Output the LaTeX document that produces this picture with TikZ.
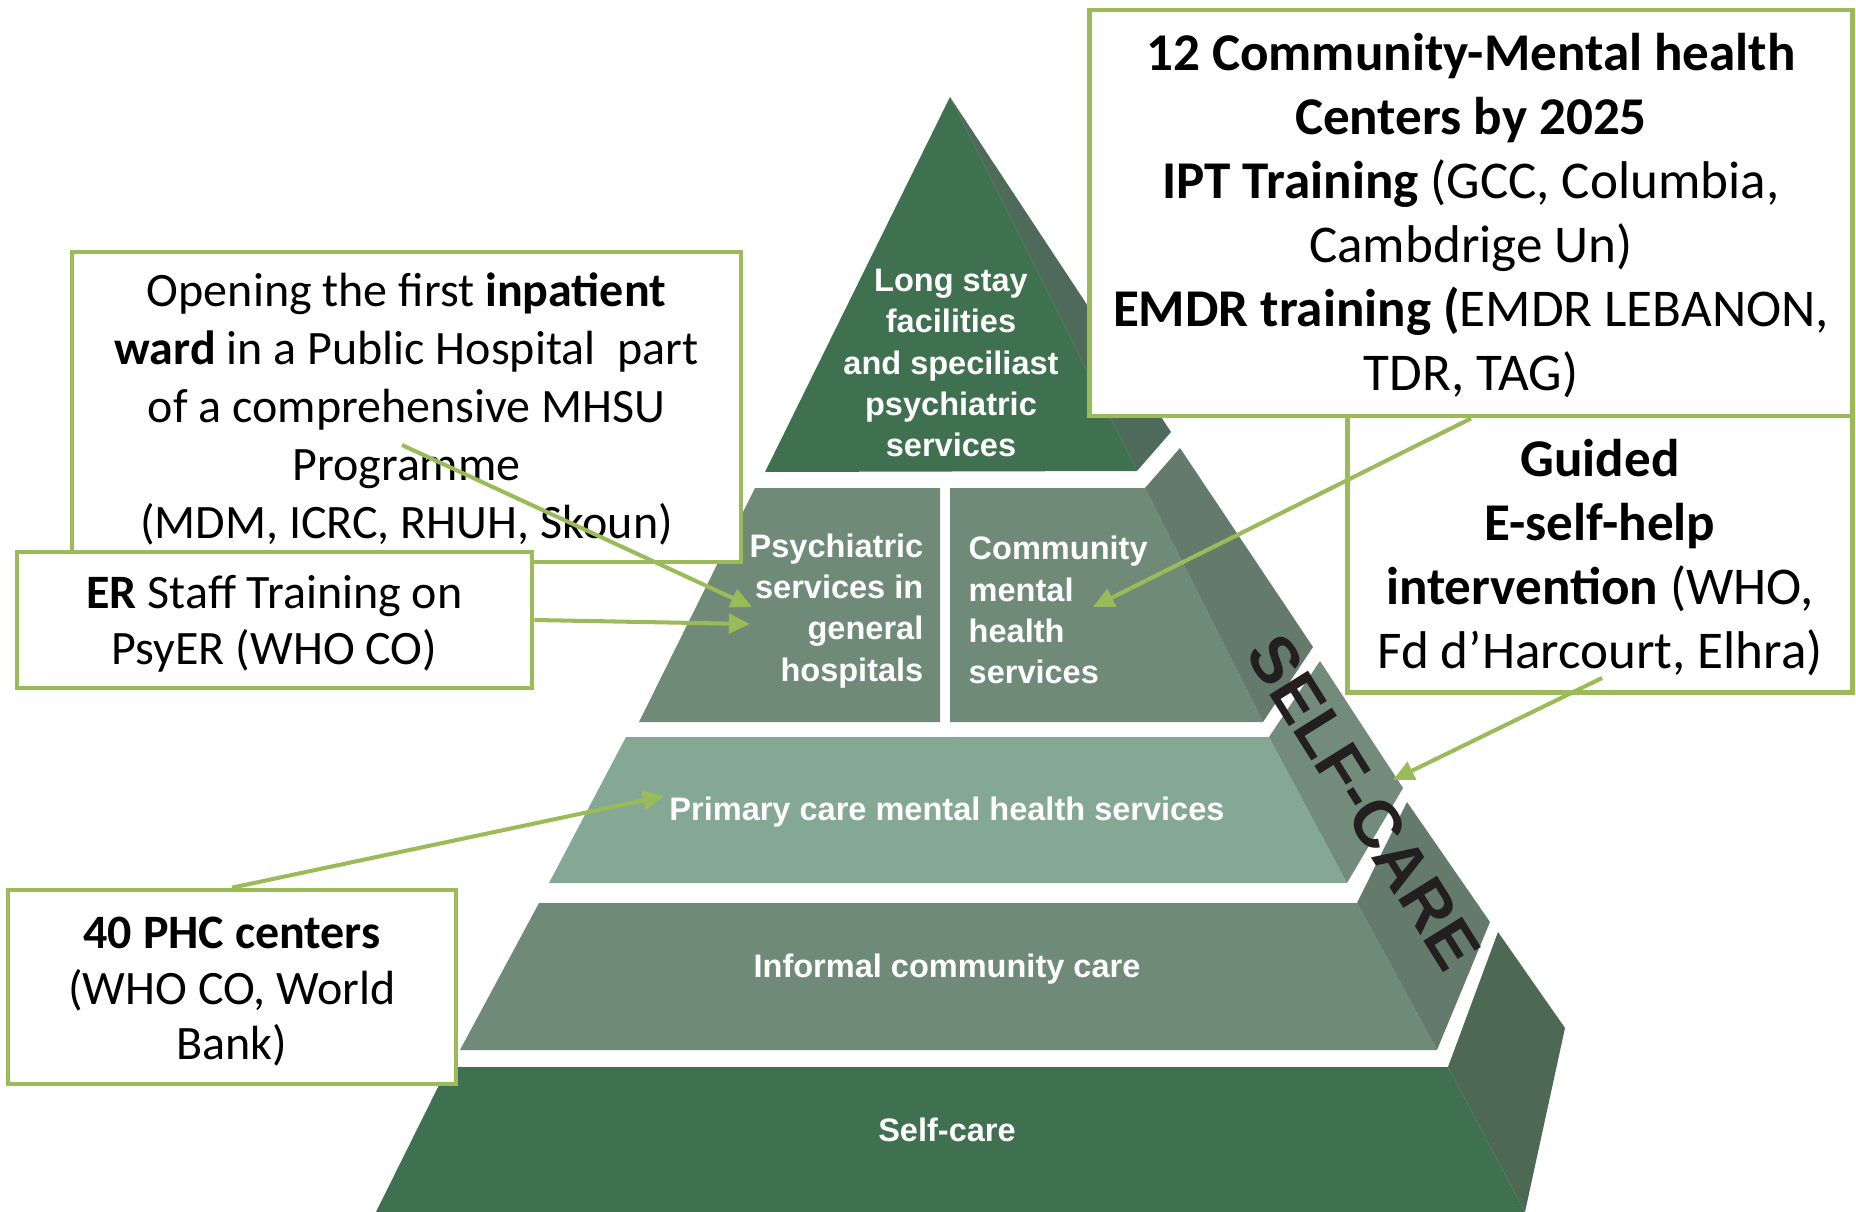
\documentclass[tikz,border=0pt]{standalone}
\usepackage{fontspec}
\setmainfont{Carlito}
\newfontfamily\pyrfont{Liberation Sans}
\usetikzlibrary{arrows.meta}
\definecolor{callgreen}{HTML}{9BBB59}
\definecolor{darkG}{HTML}{3F7050}
\definecolor{topSide}{HTML}{4D6B58}
\definecolor{midG}{HTML}{6F8B78}
\definecolor{midSide}{HTML}{647A6B}
\definecolor{primG}{HTML}{85A894}
\definecolor{primSide}{HTML}{738B7B}
\definecolor{botSide}{HTML}{4D6853}
\definecolor{labelInk}{HTML}{231F20}
\begin{document}
\begin{tikzpicture}[x=0.01cm,y=-0.01cm,
  callout/.style={draw=callgreen, line width=1.3pt, fill=white, inner sep=0pt},
  txt/.style={inner sep=0pt, align=center, text=black},
  txtA/.style={txt, font=\fontsize{15.1}{18.2}\selectfont},
  txtB/.style={txt, font=\fontsize{13.65}{16.5}\selectfont},
  txtC/.style={txt, font=\fontsize{13.65}{15.8}\selectfont},
  pyrtext/.style={text=white, font=\pyrfont\bfseries\fontsize{9.25}{11.7}\selectfont, inner sep=0pt},
  conn/.style={draw=callgreen, line width=1.15pt, -{Triangle[length=6pt,width=5.5pt]}},
]
\useasboundingbox (0,0) rectangle (1856,1212);
% pyramid
\fill[darkG] (950,97) -- (765,472) -- (1137,471) -- cycle;
\fill[topSide] (950,97) -- (1171,432) -- (1137,471) -- cycle;
\fill[midG] (755,488) -- (940,488) -- (940,722) -- (639,722) -- cycle;
\fill[midG] (950,488) -- (1145,488) -- (1263,722) -- (950,722) -- cycle;
\fill[midSide] (1145,488) -- (1180,448) -- (1313,647) -- (1263,722) -- cycle;
\fill[primG] (626,737) -- (1269,737) -- (1347,883) -- (549,883) -- cycle;
\fill[primSide] (1269,737) -- (1320,661) -- (1403,788) -- (1347,883) -- cycle;
\fill[midG] (539,903) -- (1357,903) -- (1437,1050) -- (460,1050) -- cycle;
\fill[midSide] (1357,903) -- (1407,802) -- (1490,922) -- (1437,1050) -- cycle;
\fill[darkG] (448,1067) -- (1448,1067) -- (1525,1212) -- (376,1212) -- cycle;
\fill[botSide] (1448,1067) -- (1498,932) -- (1565,1028) -- (1525,1212) -- cycle;
% pyramid texts
\node[pyrtext, align=center] (longstay) at (951,363) {Long stay\\facilities\\and speciliast\\psychiatric\\services};
\node[pyrtext, align=right, anchor=east] (psych) at (924,611) {Psychiatric\\services in\\general\\hospitals};
\node[pyrtext, align=left, anchor=west] (commun) at (968,610) {Community\\mental\\health\\services};
\node[pyrtext] (primary) at (947,812) {Primary care mental health services};
\node[pyrtext] (informal) at (947,969) {Informal community care};
\node[pyrtext] (selfcare) at (947,1130) {Self-care};
\node[text=labelInk, font=\pyrfont\bfseries\fontsize{18.8}{20}\selectfont, rotate=-58, inner sep=0pt] (sidelabel) at (1364,802) {SELF-CARE};
% arrow targets
\coordinate (tipPsyA) at (752,607);
\coordinate (tipPsyB) at (750,624);
\coordinate (tipCom) at (1093,607);
\coordinate (tipSelf) at (1393,780);
\coordinate (tipPrim) at (664,796);
% callout boxes
\node[callout, minimum width=6.69cm, minimum height=3.10cm,
  label={[txtB, yshift=-0.6pt]center:{Opening the first \textbf{inpatient}\\\textbf{ward} in a Public Hospital\ \ part\\of a comprehensive MHSU\\Programme\\(MDM, ICRC, RHUH, Skoun)}}] (inpatient) at (406.5,407) {};
\node[callout, minimum width=5.15cm, minimum height=1.36cm,
  label={[txtC, yshift=-1.1pt]center:{\textbf{ER} Staff Training on\\PsyER (WHO CO)}}] (er) at (274.5,620) {};
\node[callout, minimum width=4.48cm, minimum height=1.94cm,
  label={[txtC, yshift=-1.4pt]center:{\textbf{40 PHC centers}\\(WHO CO, World\\Bank)}}] (phc) at (232,987) {};
\node[callout, minimum width=5.05cm, minimum height=2.83cm,
  label={[txtA, yshift=-2pt]center:{\textbf{Guided}\\\textbf{E-self-help}\\\textbf{intervention} (WHO,\\Fd d’Harcourt, Elhra)}}] (guided) at (1600,551) {};
\node[callout, minimum width=7.62cm, minimum height=4.06cm,
  label={[txtA, yshift=-0.7pt]center:{\textbf{12 Community-Mental health}\\\textbf{Centers by 2025}\\\textbf{IPT Training} (GCC, Columbia,\\Cambdrige Un)\\\textbf{EMDR training (}EMDR LEBANON,\\TDR, TAG)}}] (cmhc) at (1471,213) {};
\coordinate (startOpen) at (402,445);
\coordinate (startGuided) at (1602,678);
% connectors
\draw[conn] (startOpen) -- (tipPsyA);
\draw[conn] (er.east) -- (tipPsyB);
\draw[conn] (cmhc.south) -- (tipCom);
\draw[conn] (startGuided) -- (tipSelf);
\draw[conn] (phc.north) -- (tipPrim);
\end{tikzpicture}
\end{document}
